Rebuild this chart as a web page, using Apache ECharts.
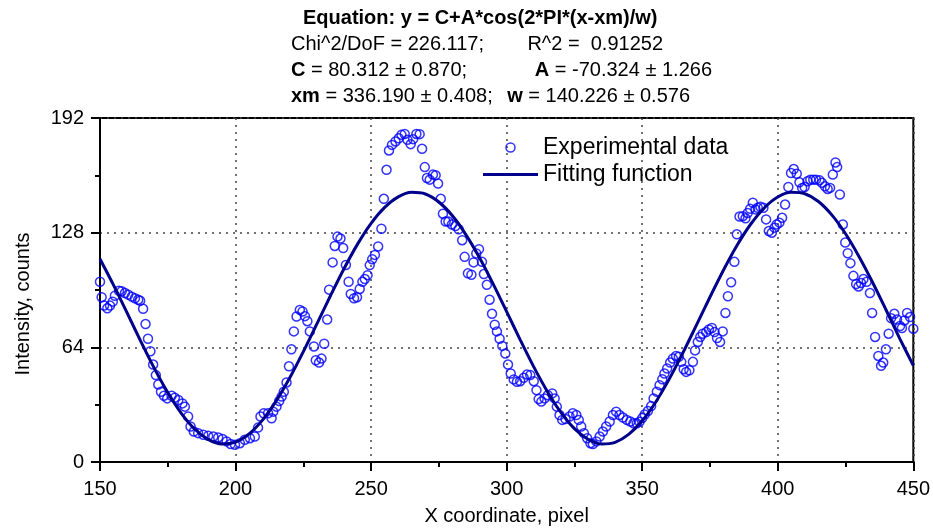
<!DOCTYPE html>
<html>
<head>
<meta charset="utf-8">
<script src="https://cdn.jsdelivr.net/npm/echarts@6/dist/echarts.min.js"></script>
<style>
html,body{margin:0;padding:0;background:#fff;}
#chart{width:933px;height:531px;}
</style>
</head>
<body>
<div id="chart"></div>
<script>
// Experimental data (x in pixel, intensity in counts)
const expX = [150,150.6,151.5,152.7,153.7,154.7,155.5,157,158,159.2,160.4,161.7,162.9,164.1,164.8,165.9,166.8,167.7,168.6,169.6,170.6,171.5,172.5,173.6,174.8,176.4,177.6,178.9,180.4,181.3,182.5,183.4,184.6,186.2,188.1,189.9,191.8,193.6,195.2,196.7,198.2,199.8,201.6,203.4,205.3,207.1,208.3,209.2,210.4,212,213.3,213.9,215.1,216.1,217,217.8,218.8,219.7,220.6,221.5,222.5,223.7,224.7,225.6,226.5,227.4,228.9,229.6,230.8,231.7,232.7,233.8,234.5,235.8,236.6,237.6,238.7,239.7,240.7,241.7,242.5,243.7,244.8,245.8,246.8,247.7,248.7,249.5,250.4,251.4,252.6,253.8,254.7,255.7,256.6,257.7,259,260.2,261.2,262.4,263.4,264.6,265.5,266.7,267.9,268.8,269.8,270.6,271.6,272.8,273.8,274.7,275.7,276.5,277.5,278.5,279.8,281.1,282.3,283.6,284.5,285.7,287,287.8,288.8,289.8,290.9,291.6,292.7,293.7,294.6,295.6,296.4,297.4,298.4,299.5,300.5,301.5,302.6,303.8,305,306.3,307.5,308.7,310,311,311.8,312.8,314,315.2,316.8,317.7,318.5,319.5,320.5,321.7,323.2,324.4,325.7,326.6,327.5,328.5,329.7,330.9,331.8,333.1,334.3,335.5,336.7,338,339.2,340.4,341.6,342.9,344.3,345.6,346.8,348,349,350,350.9,352.1,353.3,354.2,355.4,356.4,357.4,358.2,359.2,360.3,361.3,362.5,363.5,364.4,365.3,366.2,367.4,368.7,369.5,370.5,371.4,372.3,373.6,374.6,375.7,376.7,377.6,378.7,379.7,380.7,381.6,382.8,384,384.9,385.9,387.1,388.1,388.9,389.8,390.8,391.8,392.6,393.6,394.7,395.7,396.7,397.8,398.8,399.6,400.6,401.6,402.7,403.9,404.9,405.9,407,408,409,409.9,411,412,413.1,414.1,415.4,416.3,417.4,418.4,419.3,420.3,421.3,421.9,422.9,424,424.9,425.8,426.8,427.9,428.9,429.8,430.7,431.6,432.8,434,434.8,435.9,437.1,438.1,438.9,439.9,440.9,441.8,443,444,445.1,445.8,446.7,447.7,448.8,450];
const expY = [100.6,92,87.3,85.8,87.3,89.5,92.8,95.6,95.3,94.3,93.4,92.3,91.4,90.6,90,85.5,77,68.8,61.8,54.4,48.5,43.3,39.2,37,35.5,37,35.9,34.6,32.7,30.9,25.4,19.8,17,16.1,15.2,14.6,14.2,13.7,12.8,11.5,10,9.6,10.5,12.4,13.3,14.2,19.2,25.4,27.2,27.2,24.4,28.1,30.9,34,36.5,39.2,44.4,53.4,62.9,72.9,81.2,84.9,84,81.4,78.6,72.9,64.5,56.8,55.5,57.7,66,79.5,96.2,111.4,120.6,125.8,124.7,119.4,110,100.6,93.8,91.4,92,96.6,100.6,102.1,104.3,109.9,113.2,115.6,120.3,130.2,146.9,163.1,173.9,177,178.9,180.7,182.6,183.1,179.8,177.4,180.2,183.1,183,174.8,164.6,158.5,157.6,160.4,160,155.4,146.9,138.6,134.2,134.2,132.6,131.7,129.9,123.8,114.5,105.3,104.5,111.4,116.4,118.8,111.7,104.9,98.9,90.6,82.7,76.6,72.9,68.8,64.8,60.5,54.4,49.4,46.1,44.8,45.1,47,48.8,48.5,45.1,40.1,35.1,33.7,35.5,37.3,38.3,35.5,30.9,26.2,23.5,24,25.4,27.2,26.2,23.5,19.8,16.1,13.3,10.5,10,11.5,14.2,17,19.8,22.6,26.2,28.1,26.2,24.8,23.5,22.6,21.6,21.6,22.5,24.5,26.5,28.5,31.2,35.5,39.2,42.9,46.2,49.4,52.2,55.5,57.7,59.2,58.7,55.9,51.8,50.3,51.2,55.9,62.3,67,69.8,71.6,72.5,74,74.8,72.5,69.2,67,72.9,83.2,92.5,100.3,111.7,127.1,137,137.2,136,139,141.3,144.7,141,141.9,142.4,141.9,135.4,128.9,128,130.8,132.6,133.6,136.3,143.7,153.5,161.3,163.5,160.9,156.1,153,153.5,156.7,157.6,157.6,157.6,157.2,155.8,153.9,152.4,153,160.4,167.2,164.6,149.3,132.6,122.5,116.5,111,103.9,99.3,98,99.9,102.1,100.6,94.3,83.2,69.8,59.2,53.7,55.5,62.9,71.6,80.3,82.7,79.5,75.9,74.8,79,83.2,80.9,74.4];

// Fitting function, sampled every 5 pixels
const fitX = [150,155,160,165,170,175,180,185,190,195,200,205,210,215,220,225,230,235,240,245,250,255,260,265,270,275,280,285,290,295,300,305,310,315,320,325,330,335,340,345,350,355,360,365,370,375,380,385,390,395,400,405,410,415,420,425,430,435,440,445,450];
const fitY = [113.3,98.7,83.2,67.5,52.4,38.8,27.2,18.3,12.5,10.1,11.1,15.7,23.5,34.1,47.0,61.6,77.1,92.8,107.9,121.6,133.2,142.1,148.0,150.5,149.6,145.1,137.4,126.8,114.0,99.4,83.9,68.2,53.1,39.4,27.7,18.6,12.7,10.1,11.0,15.4,23.0,33.5,46.4,60.9,76.4,92.1,107.2,121.0,132.7,141.8,147.9,150.5,149.7,145.4,137.8,127.4,114.6,100.2,84.7,68.9,53.8];

const xTicks = [150,200,250,300,350,400,450];
const yTicks = [0,64,128,192];

const FONT = '"Liberation Sans", Arial, sans-serif';
const chart = echarts.init(document.getElementById('chart'), null, {renderer:'canvas'});

const splitStyle = {show:true, lineStyle:{color:'#444', width:1.5, type:[2,5]}};
const tStyle = {fontFamily:FONT, fontSize:20, fontWeight:'normal', color:'#000',
  rich:{b:{fontFamily:FONT, fontSize:20, fontWeight:'bold', color:'#000'}}};

chart.setOption({
  backgroundColor:'#fff',
  animation:false,
  title:[
    {text:'Equation: y = C+A*cos(2*PI*(x-xm)/w)', left:303, top:8, padding:0,
     textStyle:{fontFamily:FONT, fontSize:20, fontWeight:'bold', color:'#000'}},
    {text:'Chi^2/DoF = 226.117;', left:291, top:34, padding:0, textStyle:tStyle},
    {text:'R^2 =  0.91252', right:270, top:34, padding:0, textStyle:tStyle},
    {text:'{b|C} = 80.312 ± 0.870;', left:291, top:60, padding:0, textStyle:tStyle},
    {text:'{b|A} = -70.324 ± 1.266', right:221, top:60, padding:0, textStyle:tStyle},
    {text:'{b|xm} = 336.190 ± 0.408;', left:291, top:86, padding:0, textStyle:tStyle},
    {text:'{b|w} = 140.226 ± 0.576', right:243, top:86, padding:0, textStyle:tStyle}
  ],
  grid:{left:100, right:19, top:118, bottom:67, show:true, borderColor:'#000', borderWidth:2, backgroundColor:'transparent'},
  legend:{
    orient:'vertical', left:478, top:131, itemWidth:55, itemHeight:9, itemGap:4,
    textStyle:{fontFamily:FONT, fontSize:23, color:'#000'},
    data:[
      {name:'Experimental data', icon:'circle', itemStyle:{color:'rgba(0,0,0,0)', borderColor:'#0000ff', borderWidth:1.5}},
      {name:'Fitting function', icon:'path://M0,0L55,0L55,3L0,3Z', itemStyle:{color:'#00008b', borderWidth:0}}
    ]
  },
  xAxis:{
    type:'value', min:xTicks[0], max:xTicks[xTicks.length-1], interval:50,
    name:'X coordinate, pixel', nameLocation:'middle', nameGap:44,
    nameTextStyle:{fontFamily:FONT, fontSize:20, color:'#000'},
    axisLine:{show:true, onZero:false, lineStyle:{color:'#000', width:2}},
    axisTick:{show:true, inside:false, length:9, lineStyle:{color:'#000', width:2}},
    minorTick:{show:true, splitNumber:2, length:5, lineStyle:{color:'#000', width:2}},
    axisLabel:{fontFamily:FONT, fontSize:20, color:'#000', margin:17},
    splitLine:splitStyle
  },
  yAxis:{
    type:'value', min:yTicks[0], max:yTicks[yTicks.length-1], interval:64,
    name:'Intensity, counts', nameLocation:'middle', nameGap:67,
    nameTextStyle:{fontFamily:FONT, fontSize:20, color:'#000', padding:[0,28,0,0]},
    axisLine:{show:true, lineStyle:{color:'#000', width:2}},
    axisTick:{show:true, inside:false, length:9, lineStyle:{color:'#000', width:2}},
    minorTick:{show:true, splitNumber:2, length:5, lineStyle:{color:'#000', width:2}},
    axisLabel:{fontFamily:FONT, fontSize:20, color:'#000', margin:16},
    splitLine:splitStyle
  },
  series:[
    {
      name:'Experimental data', type:'scatter',
      data:expX.map((x,i)=>[x, expY[i]]),
      symbol:'circle', symbolSize:9,
      itemStyle:{color:'rgba(0,0,0,0)', borderColor:'#0000ff', borderWidth:1.5},
      z:2
    },
    {
      name:'Fitting function', type:'line',
      data:fitX.map((x,i)=>[x, fitY[i]]),
      smooth:0.3, showSymbol:false, symbol:'none',
      lineStyle:{color:'#00008b', width:3},
      itemStyle:{color:'#00008b'},
      z:3
    }
  ]
});
</script>
</body>
</html>
